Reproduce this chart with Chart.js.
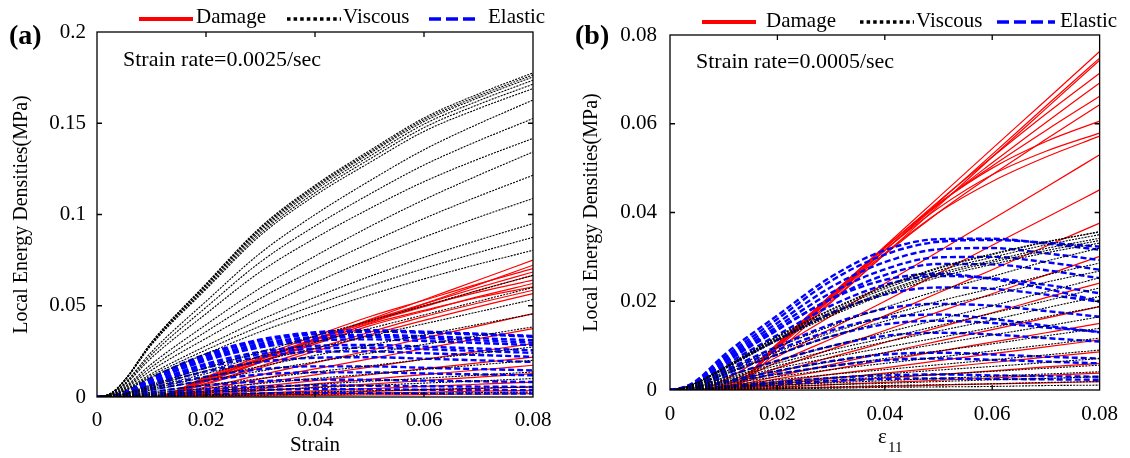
<!DOCTYPE html>
<html><head><meta charset="utf-8">
<script src="https://cdn.jsdelivr.net/npm/chart.js@4.4.0/dist/chart.umd.min.js"></script>
<style>
html,body{margin:0;padding:0;background:#fff;}
body{width:1130px;height:458px;position:relative;overflow:hidden;font-family:"Liberation Serif","Times New Roman",serif;color:#000;}
.t{position:absolute;white-space:nowrap;line-height:1;}
.s{position:absolute;}
canvas{position:absolute;top:0;}
</style></head><body>
<canvas id="ca" width="565" height="458" style="left:0"></canvas>
<canvas id="cb" width="565" height="458" style="left:565px"></canvas>

<!-- panel labels -->
<div class="t" style="left:9px;top:20.5px;font-size:28px;font-weight:bold">(a)</div>
<div class="t" style="left:575px;top:21px;font-size:28px;font-weight:bold">(b)</div>
<!-- annotations -->
<div class="t" style="left:123px;top:48.3px;font-size:22px">Strain rate=0.0025/sec</div>
<div class="t" style="left:696px;top:49.6px;font-size:22px">Strain rate=0.0005/sec</div>
<!-- legend a -->
<svg class="s" style="left:139px;top:15px" width="54" height="8"><line x1="0" y1="4" x2="54" y2="4" stroke="#ff0000" stroke-width="4"/></svg>
<div class="t" style="left:196px;top:6.4px;font-size:21px">Damage</div>
<svg class="s" style="left:287px;top:15px" width="54" height="8"><line x1="0" y1="4" x2="54" y2="4" stroke="#000" stroke-width="3.5" stroke-dasharray="3.5 3.1"/></svg>
<div class="t" style="left:343px;top:6.4px;font-size:21px">Viscous</div>
<svg class="s" style="left:429px;top:15px" width="51" height="8"><line x1="0" y1="4" x2="51" y2="4" stroke="#0000ff" stroke-width="3.5" stroke-dasharray="12 5"/></svg>
<div class="t" style="left:488px;top:6.4px;font-size:21px">Elastic</div>
<!-- legend b -->
<svg class="s" style="left:702px;top:18px" width="54" height="8"><line x1="0" y1="4" x2="54" y2="4" stroke="#ff0000" stroke-width="4"/></svg>
<div class="t" style="left:766px;top:10.4px;font-size:21px">Damage</div>
<svg class="s" style="left:860px;top:18px" width="54" height="8"><line x1="0" y1="4" x2="54" y2="4" stroke="#000" stroke-width="3.5" stroke-dasharray="3.5 3.1"/></svg>
<div class="t" style="left:916px;top:10.4px;font-size:21px">Viscous</div>
<svg class="s" style="left:997px;top:18px" width="58" height="8"><line x1="0" y1="4" x2="58" y2="4" stroke="#0000ff" stroke-width="3.5" stroke-dasharray="12 5"/></svg>
<div class="t" style="left:1060px;top:10.4px;font-size:21px">Elastic</div>
<!-- x title b -->
<div class="t" style="left:878px;top:425.5px;font-size:21px">ε</div>
<div class="t" style="left:888px;top:440.4px;font-size:15px">11</div>

<script>
// ---------- data ----------
const STRAIN = [0, 0.0025, 0.005, 0.01, 0.02, 0.03, 0.04, 0.05, 0.06, 0.07, 0.08];
const X_TICKS = [0, 0.02, 0.04, 0.06, 0.08];
const X_LABELS = ['0', '0.02', '0.04', '0.06', '0.08'];
const A_Y_TICKS = [0, 0.05, 0.1, 0.15, 0.2];
const A_Y_LABELS = ['0', '0.05', '0.1', '0.15', '0.2'];
const B_Y_TICKS = [0, 0.02, 0.04, 0.06, 0.08];
const B_Y_LABELS = ['0', '0.02', '0.04', '0.06', '0.08'];

// Panel (a), strain rate 0.0025/sec
const A_VISCOUS = [
 [0,.0020,.0091,.0300,.0620,.0931,.1160,.1350,.1529,.1661,.1776],
 [0,.0019,.0090,.0298,.0616,.0925,.1153,.1341,.1520,.1650,.1765],
 [0,.0019,.0089,.0296,.0612,.0919,.1145,.1333,.1510,.1640,.1754],
 [0,.0019,.0089,.0293,.0606,.0910,.1134,.1319,.1495,.1623,.1736],
 [0,.0019,.0087,.0290,.0598,.0898,.1119,.1303,.1476,.1603,.1714],
 [0,.0019,.0086,.0286,.0590,.0886,.1104,.1284,.1455,.1580,.1690],
 [0,.0015,.0073,.0247,.0524,.0789,.0999,.1184,.1355,.1497,.1627],
 [0,.0015,.0069,.0232,.0491,.0740,.0937,.1111,.1271,.1404,.1526],
 [0,.0014,.0064,.0215,.0456,.0687,.0870,.1032,.1180,.1304,.1417],
 [0,.0011,.0054,.0181,.0396,.0598,.0772,.0933,.1081,.1215,.1343],
 [0,.0010,.0049,.0164,.0358,.0541,.0699,.0844,.0978,.1100,.1215],
 [0,.0009,.0044,.0147,.0321,.0484,.0626,.0756,.0876,.0985,.1088],
 [0,.0008,.0038,.0128,.0280,.0423,.0546,.0660,.0765,.0860,.0950],
 [0,.0007,.0035,.0118,.0258,.0389,.0503,.0608,.0704,.0792,.0875],
 [0,.0006,.0032,.0109,.0237,.0358,.0462,.0559,.0647,.0728,.0804],
 [0,.0003,.0020,.0067,.0160,.0247,.0334,.0417,.0500,.0584,.0667],
 [0,.0003,.0018,.0060,.0144,.0222,.0300,.0375,.0450,.0525,.0600],
 [0,.0003,.0016,.0053,.0128,.0198,.0267,.0334,.0401,.0467,.0534],
 [0,.0002,.0014,.0046,.0109,.0168,.0228,.0284,.0341,.0398,.0455],
 [0,.0002,.0012,.0038,.0092,.0142,.0192,.0240,.0288,.0336,.0384],
 [0,.0001,.0008,.0027,.0066,.0101,.0137,.0171,.0206,.0240,.0274],
 [0,.0001,.0006,.0020,.0048,.0074,.0101,.0126,.0151,.0176,.0201],
 [0,.0001,.0004,.0014,.0033,.0051,.0069,.0086,.0103,.0120,.0137],
 [0,.0001,.0003,.0010,.0024,.0037,.0051,.0063,.0076,.0088,.0101],
 [0,0,.0002,.0006,.0013,.0020,.0028,.0034,.0041,.0048,.0055],
 [0,0,.0001,.0003,.0007,.0010,.0014,.0017,.0020,.0024,.0027]
];
const A_ELASTIC = [
 [0,.0003,.0025,.0105,.0235,.0315,.0355,.0366,.0358,.0347,.0335],
 [0,.0003,.0024,.0100,.0225,.0305,.0345,.0358,.0352,.0342,.0330],
 [0,.0003,.0023,.0095,.0215,.0292,.0330,.0340,.0333,.0322,.0311],
 [0,.0002,.0022,.0092,.0208,.0282,.0320,.0330,.0322,.0310,.0298],
 [0,.0002,.0021,.0088,.0200,.0272,.0308,.0316,.0307,.0296,.0284],
 [0,.0002,.0019,.0080,.0182,.0248,.0280,.0285,.0276,.0266,.0256],
 [0,.0002,.0018,.0075,.0172,.0235,.0265,.0270,.0262,.0252,.0242],
 [0,.0002,.0017,.0070,.0160,.0220,.0248,.0250,.0240,.0230,.0220],
 [0,.0001,.0015,.0062,.0140,.0192,.0215,.0218,.0210,.0201,.0192],
 [0,.0001,.0012,.0050,.0112,.0152,.0168,.0168,.0160,.0153,.0146],
 [0,.0001,.0010,.0040,.0090,.0123,.0135,.0135,.0129,.0124,.0119],
 [0,.0001,.0007,.0028,.0063,.0086,.0095,.0094,.0090,.0086,.0082],
 [0,0,.0005,.0019,.0042,.0057,.0063,.0062,.0059,.0057,.0055],
 [0,0,.0003,.0013,.0029,.0039,.0043,.0042,.0040,.0038,.0037],
 [0,0,.0002,.0007,.0015,.0020,.0022,.0021,.0020,.0019,.0019]
];
const A_DAMAGE = [
 [0,0,0,0,.0098,.0207,.0315,.0424,.0533,.0641,.0750],
 [0,0,0,0,.0085,.0191,.0297,.0404,.0510,.0616,.0722],
 [0,0,0,0,.0110,.0225,.0335,.0440,.0530,.0620,.0704],
 [0,0,0,0,.0105,.0215,.0320,.0420,.0510,.0600,.0685],
 [0,0,0,0,.0095,.0205,.0310,.0410,.0495,.0585,.0667],
 [0,0,0,0,.0100,.0210,.0315,.0415,.0500,.0575,.0640],
 [0,0,0,0,.0085,.0190,.0290,.0390,.0470,.0550,.0622],
 [0,0,0,0,.0090,.0195,.0300,.0400,.0475,.0545,.0603],
 [0,0,0,0,.0075,.0170,.0265,.0355,.0440,.0515,.0585],
 [0,0,0,0,.0070,.0160,.0250,.0340,.0420,.0495,.0567],
 [0,0,0,0,.0054,.0121,.0188,.0255,.0323,.0390,.0457],
 [0,0,0,0,.0044,.0099,.0154,.0209,.0265,.0320,.0375],
 [0,0,0,0,.0034,.0078,.0121,.0164,.0207,.0250,.0293],
 [0,0,0,0,.0026,.0058,.0090,.0122,.0155,.0187,.0219],
 [0,0,0,0,.0020,.0046,.0072,.0097,.0123,.0148,.0174],
 [0,0,0,0,.0015,.0034,.0053,.0071,.0090,.0109,.0128],
 [0,0,0,0,.0010,.0022,.0034,.0046,.0058,.0070,.0082],
 [0,0,0,0,.0006,.0015,.0023,.0031,.0039,.0047,.0055],
 [0,0,0,0,.0004,.0010,.0015,.0021,.0026,.0032,.0037],
 [0,0,0,0,.0002,.0005,.0008,.0011,.0013,.0016,.0019]
];

// Panel (b), strain rate 0.0005/sec
const B_VISCOUS = [
 [0,.0005,.0017,.0050,.0121,.0182,.0234,.0276,.0307,.0334,.0356],
 [0,.0005,.0017,.0050,.0120,.0180,.0232,.0274,.0305,.0333,.0357],
 [0,.0005,.0017,.0049,.0118,.0176,.0228,.0269,.0299,.0327,.0350],
 [0,.0005,.0016,.0048,.0115,.0172,.0222,.0263,.0292,.0319,.0342],
 [0,.0005,.0016,.0047,.0113,.0170,.0219,.0259,.0288,.0314,.0337],
 [0,.0005,.0016,.0046,.0111,.0167,.0215,.0254,.0283,.0309,.0331],
 [0,.0004,.0013,.0040,.0096,.0144,.0186,.0224,.0256,.0290,.0320],
 [0,.0003,.0012,.0036,.0086,.0129,.0166,.0200,.0229,.0259,.0286],
 [0,.0003,.0011,.0034,.0080,.0121,.0155,.0188,.0214,.0243,.0268],
 [0,.0003,.0009,.0028,.0066,.0099,.0129,.0159,.0190,.0221,.0253],
 [0,.0002,.0008,.0025,.0060,.0090,.0117,.0145,.0173,.0201,.0230],
 [0,.0002,.0007,.0023,.0055,.0082,.0108,.0133,.0158,.0185,.0211],
 [0,.0002,.0007,.0021,.0049,.0073,.0096,.0118,.0141,.0165,.0188],
 [0,.0002,.0006,.0018,.0043,.0064,.0084,.0104,.0124,.0144,.0165],
 [0,.0001,.0005,.0015,.0036,.0054,.0071,.0088,.0104,.0122,.0139],
 [0,.0001,.0004,.0013,.0030,.0046,.0060,.0074,.0088,.0102,.0117],
 [0,.0001,.0003,.0010,.0023,.0035,.0046,.0057,.0068,.0079,.0090],
 [0,.0001,.0002,.0008,.0018,.0028,.0036,.0045,.0053,.0062,.0071],
 [0,.0001,.0002,.0006,.0015,.0022,.0029,.0035,.0042,.0049,.0056],
 [0,0,.0001,.0005,.0011,.0016,.0021,.0026,.0031,.0036,.0041],
 [0,0,.0001,.0003,.0008,.0012,.0015,.0019,.0023,.0026,.0030],
 [0,0,.0001,.0002,.0005,.0007,.0010,.0012,.0014,.0017,.0019],
 [0,0,0,.0001,.0003,.0004,.0006,.0007,.0008,.0010,.0011]
];
const B_ELASTIC = [
 [0,.0006,.0022,.0078,.0168,.0255,.0315,.0340,.0341,.0330,.0316],
 [0,.0006,.0020,.0072,.0160,.0246,.0305,.0334,.0338,.0332,.0323],
 [0,.0005,.0019,.0068,.0151,.0232,.0288,.0317,.0320,.0308,.0293],
 [0,.0005,.0017,.0064,.0143,.0219,.0272,.0299,.0300,.0288,.0271],
 [0,.0005,.0017,.0061,.0137,.0205,.0248,.0262,.0250,.0228,.0200],
 [0,.0005,.0016,.0059,.0135,.0206,.0259,.0284,.0283,.0270,.0252],
 [0,.0004,.0014,.0054,.0124,.0190,.0237,.0257,.0252,.0237,.0218],
 [0,.0004,.0013,.0049,.0113,.0173,.0215,.0231,.0228,.0215,.0199],
 [0,.0003,.0012,.0043,.0098,.0148,.0183,.0194,.0190,.0178,.0165],
 [0,.0003,.0011,.0039,.0090,.0134,.0163,.0170,.0160,.0145,.0130],
 [0,.0003,.0009,.0034,.0080,.0121,.0148,.0156,.0151,.0141,.0131],
 [0,.0002,.0008,.0029,.0066,.0099,.0122,.0129,.0125,.0117,.0109],
 [0,.0002,.0005,.0019,.0043,.0065,.0080,.0084,.0080,.0075,.0071],
 [0,.0001,.0004,.0016,.0036,.0054,.0067,.0071,.0068,.0064,.0060],
 [0,.0001,.0003,.0008,.0018,.0027,.0033,.0035,.0033,.0031,.0030],
 [0,0,.0002,.0006,.0013,.0020,.0025,.0026,.0025,.0024,.0023]
];
const B_DAMAGE = [
 [0,0,0,0,.0104,.0214,.0324,.0434,.0544,.0653,.0763],
 [0,0,0,0,.0098,.0206,.0314,.0423,.0531,.0640,.0748],
 [0,0,0,0,.0087,.0197,.0306,.0415,.0525,.0634,.0743],
 [0,0,0,0,.0102,.0212,.0320,.0425,.0525,.0622,.0714],
 [0,0,0,0,.0100,.0208,.0315,.0418,.0512,.0603,.0692],
 [0,0,0,0,.0102,.0212,.0320,.0420,.0505,.0585,.0662],
 [0,0,0,0,.0095,.0200,.0305,.0400,.0485,.0565,.0643],
 [0,0,0,0,.0105,.0215,.0322,.0420,.0500,.0560,.0606],
 [0,0,0,0,.0100,.0210,.0315,.0410,.0485,.0538,.0579],
 [0,0,0,0,.0098,.0205,.0308,.0400,.0470,.0525,.0572],
 [0,0,0,.0022,.0094,.0167,.0240,.0312,.0385,.0457,.0530],
 [0,0,0,.0013,.0075,.0138,.0200,.0263,.0326,.0388,.0451],
 [0,0,0,.0010,.0063,.0115,.0167,.0219,.0271,.0324,.0376],
 [0,0,0,.0008,.0050,.0092,.0134,.0176,.0217,.0259,.0301],
 [0,0,0,.0007,.0040,.0074,.0107,.0141,.0174,.0208,.0241],
 [0,0,0,.0005,.0031,.0057,.0084,.0110,.0136,.0162,.0188],
 [0,0,0,.0004,.0025,.0046,.0067,.0087,.0108,.0129,.0150],
 [0,0,0,.0003,.0019,.0035,.0050,.0066,.0082,.0097,.0113],
 [0,0,0,.0002,.0014,.0026,.0038,.0050,.0062,.0074,.0086],
 [0,0,0,.0002,.0010,.0018,.0027,.0035,.0043,.0052,.0060],
 [0,0,0,.0001,.0006,.0012,.0017,.0022,.0027,.0033,.0038],
 [0,0,0,.0001,.0003,.0006,.0008,.0011,.0014,.0016,.0019]
];

// ---------- styling ----------
const FONT = "'Liberation Serif', 'Times New Roman', serif";
const STYLE_VISCOUS = {borderColor: '#000000', borderWidth: 1.1, borderDash: [2, 1.2]};
const STYLE_ELASTIC = {borderColor: '#0000ff', borderWidth: 2.4, borderDash: [6, 3]};
const STYLE_DAMAGE  = {borderColor: '#ff0000', borderWidth: 1.2, borderDash: []};

function series(rows, style) {
  return rows.map(r => Object.assign({
    data: r.map((v, i) => ({x: STRAIN[i], y: v})),
    pointRadius: 0, fill: false, cubicInterpolationMode: 'monotone'
  }, style));
}

const framePlugin = {
  id: 'frame',
  afterDatasetsDraw(chart) {
    const {ctx, chartArea: a, scales: {x, y}} = chart;
    ctx.save();
    ctx.strokeStyle = '#000';
    ctx.lineWidth = 1.3;
    ctx.setLineDash([]);
    ctx.strokeRect(a.left, a.top, a.right - a.left, a.bottom - a.top);
    const L = 5;
    ctx.beginPath();
    x.ticks.forEach(t => {
      const p = x.getPixelForValue(t.value);
      if (p > a.left + 1 && p < a.right - 1) {
        ctx.moveTo(p, a.bottom); ctx.lineTo(p, a.bottom - L);
        ctx.moveTo(p, a.top); ctx.lineTo(p, a.top + L);
      }
    });
    y.ticks.forEach(t => {
      const p = y.getPixelForValue(t.value);
      if (p > a.top + 1 && p < a.bottom - 1) {
        ctx.moveTo(a.left, p); ctx.lineTo(a.left + L, p);
        ctx.moveTo(a.right, p); ctx.lineTo(a.right - L, p);
      }
    });
    ctx.stroke();
    ctx.restore();
  }
};

function makeChart(id, p) {
  return new Chart(document.getElementById(id), {
    type: 'line',
    data: {datasets: [].concat(series(p.viscous, STYLE_VISCOUS), series(p.elastic, STYLE_ELASTIC), series(p.damage, STYLE_DAMAGE))},
    options: {
      responsive: false, animation: false, devicePixelRatio: 1,
      layout: {padding: {left: 0, right: p.padRight, top: p.padTop, bottom: 0}},
      plugins: {legend: {display: false}, tooltip: {enabled: false}},
      scales: {
        x: {
          type: 'linear', min: 0, max: 0.08,
          afterFit: s => { s.height = p.xHeight; },
          afterBuildTicks: s => { s.ticks = X_TICKS.map(v => ({value: v})); },
          ticks: {callback: (v, i) => X_LABELS[i], font: {family: FONT, size: 21}, color: '#000', padding: p.xPad, maxRotation: 0, autoSkip: false},
          grid: {display: false, drawTicks: false}, border: {display: false},
          title: {display: !!p.xTitle, text: p.xTitle || '', font: {family: FONT, size: 21}, color: '#000', padding: {top: 0, bottom: 0}}
        },
        y: {
          type: 'linear', min: 0, max: p.yMax,
          afterFit: s => { s.width = p.yWidth; },
          afterBuildTicks: s => { s.ticks = p.yTicks.map(v => ({value: v})); },
          ticks: {callback: (v, i) => p.yLabels[i], font: {family: FONT, size: 21}, color: '#000', padding: p.yPad, autoSkip: false},
          grid: {display: false, drawTicks: false}, border: {display: false},
          title: {display: true, text: 'Local Energy Densities(MPa)', font: {family: FONT, size: 20}, color: '#000', padding: {top: p.yTitlePad, bottom: 0}}
        }
      }
    },
    plugins: [framePlugin]
  });
}

makeChart('ca', {viscous: A_VISCOUS, elastic: A_ELASTIC, damage: A_DAMAGE, yMax: 0.2, yTicks: A_Y_TICKS, yLabels: A_Y_LABELS,
  padRight: 32, padTop: 32, xHeight: 61, yWidth: 97, xPad: 11, yPad: 11, yTitlePad: 10, xTitle: 'Strain'});
makeChart('cb', {viscous: B_VISCOUS, elastic: B_ELASTIC, damage: B_DAMAGE, yMax: 0.08, yTicks: B_Y_TICKS, yLabels: B_Y_LABELS,
  padRight: 23, padTop: 35, xHeight: 68, yWidth: 105, xPad: 12, yPad: 13, yTitlePad: 15, xTitle: ''});
</script>
</body></html>
